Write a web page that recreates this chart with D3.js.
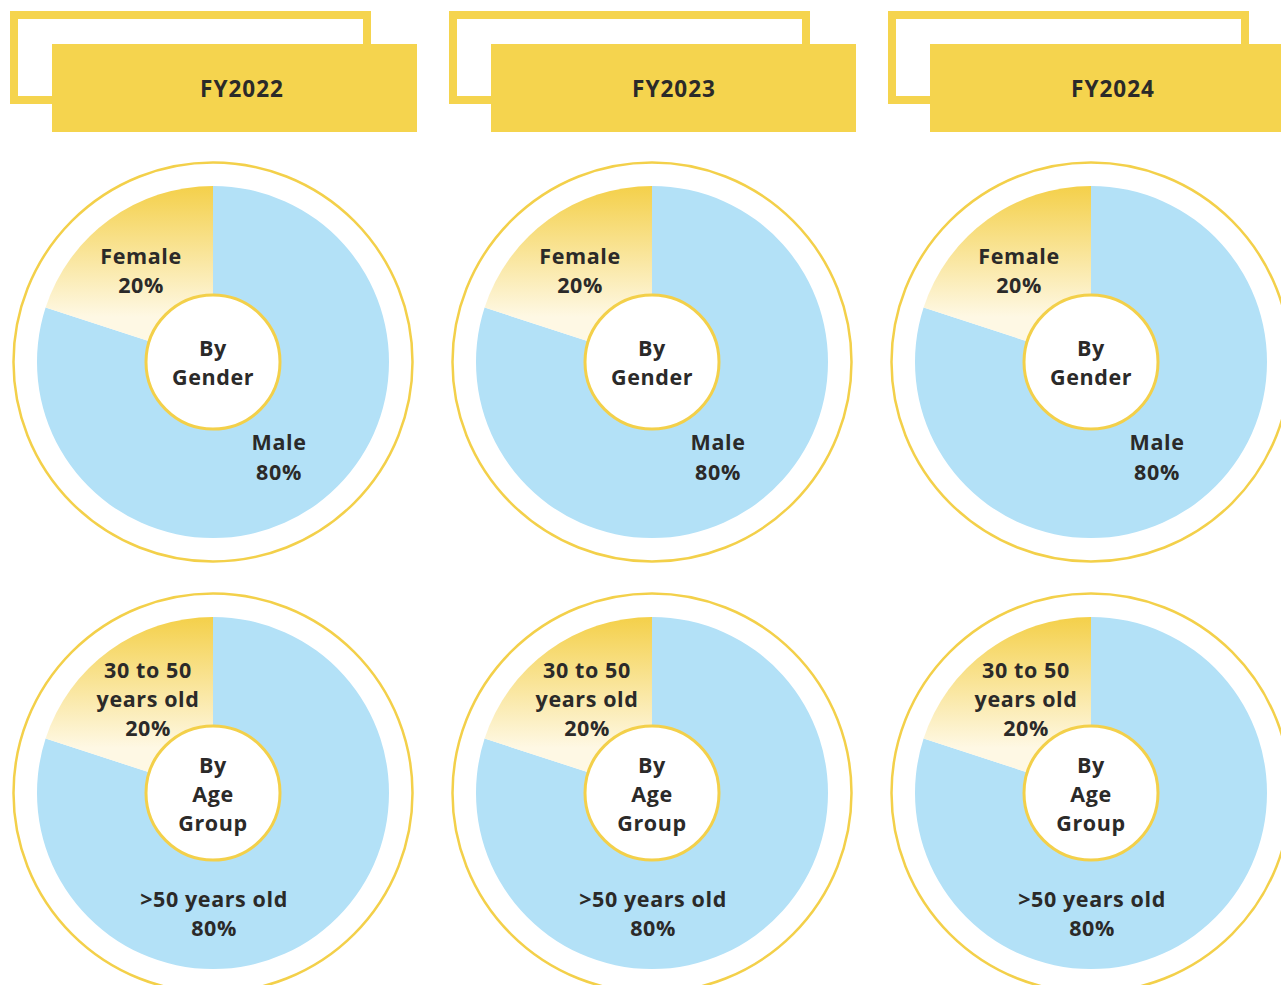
<!DOCTYPE html>
<html><head><meta charset="utf-8">
<script src="https://cdn.jsdelivr.net/npm/d3@7"></script>
<style>html,body{margin:0;padding:0;background:#fff;}svg{display:block;}</style>
</head><body>
<script>
const years = ["FY2022", "FY2023", "FY2024"];
const genderCategories = ["Male", "Female"];
const genderValues = [[80, 20], [80, 20], [80, 20]];
const ageCategories = [">50 years old", "30 to 50 years old"];
const ageValues = [[80, 20], [80, 20], [80, 20]];
const centerTitles = [["By", "Gender"], ["By", "Age", "Group"]];

const W = 1281, H = 985;
const svg = d3.select("body").append("svg").attr("width", W).attr("height", H);
const defs = svg.append("defs");

const yellow = "#F5D44E", ring = "#F3D04A", blue = "#B3E1F7", ink = "#2B2A29";
const font = "'Open Sans', 'Noto Sans', sans-serif";

const panelX = d3.scaleLinear().domain([0, 1]).range([213, 652]);
const headerTextX = [242, 674, 1113];
const rowY = [362, 793];
const R = 176, ringR = 199.5, innerR = 67;

const pie = d3.pie().sort(null).value(d => d.value);
const arc = d3.arc().innerRadius(0).outerRadius(R);

function label(g, lines, x, y0, dy) {
  const t = g.append("text").attr("text-anchor", "middle").attr("font-family", font)
    .attr("font-weight", 700).attr("font-size", 21.5).attr("letter-spacing", 0.6).attr("fill", ink);
  lines.forEach((s, i) => t.append("tspan").attr("x", x).attr("y", y0 + i * dy).attr("dominant-baseline", "middle").text(s));
}

years.forEach((yr, i) => {
  const cx = panelX(i);
  const ox = cx - 213;
  // header
  svg.append("rect").attr("x", ox + 14).attr("y", 15).attr("width", 353).attr("height", 85)
    .attr("fill", "none").attr("stroke", yellow).attr("stroke-width", 8);
  svg.append("rect").attr("x", ox + 52).attr("y", 44).attr("width", 365).attr("height", 88).attr("fill", yellow);
  svg.append("text").attr("x", headerTextX[i]).attr("y", 91).attr("text-anchor", "middle")
    .attr("dominant-baseline", "middle").attr("font-family", font).attr("font-weight", 700)
    .attr("font-size", 22.5).attr("letter-spacing", 1).attr("fill", ink).text(yr);

  const rows = [
    {cats: genderCategories, vals: genderValues[i], title: centerTitles[0]},
    {cats: ageCategories, vals: ageValues[i], title: centerTitles[1]}
  ];
  rows.forEach((row, r) => {
    const cy = rowY[r];
    const gid = `grad-${i}-${r}`;
    const grad = defs.append("linearGradient").attr("id", gid).attr("gradientUnits", "userSpaceOnUse")
      .attr("x1", 0).attr("x2", 0).attr("y1", -R).attr("y2", -45);
    grad.append("stop").attr("offset", 0).attr("stop-color", "#F4D04A");
    grad.append("stop").attr("offset", 1).attr("stop-color", "#FEF8E4");

    const g = svg.append("g").attr("transform", `translate(${cx},${cy})`);
    g.append("circle").attr("r", ringR).attr("fill", "none").attr("stroke", ring).attr("stroke-width", 2.5);
    const data = row.cats.map((c, k) => ({cat: c, value: row.vals[k]}));
    const arcs = pie(data);
    g.selectAll("path.slice").data(arcs).join("path").attr("class", "slice")
      .attr("d", arc).attr("fill", (d, k) => k === 0 ? blue : `url(#${gid})`);
    g.append("circle").attr("r", innerR).attr("fill", "#fff").attr("stroke", ring).attr("stroke-width", 3);

    // center title
    const tl = row.title;
    const cdy = 29;
    label(g, tl, 0, -((tl.length - 1) * cdy) / 2 + 3, cdy);

    // slice labels
    if (r === 0) {
      label(g, [data[1].cat, data[1].value + "%"], -72, -104, 29);
      label(g, [data[0].cat, data[0].value + "%"], 66, 82, 30);
    } else {
      label(g, ["30 to 50", "years old", data[1].value + "%"], -65, -121, 29);
      label(g, [data[0].cat, data[0].value + "%"], 1, 108, 29);
    }
  });
});
</script>
</body></html>
